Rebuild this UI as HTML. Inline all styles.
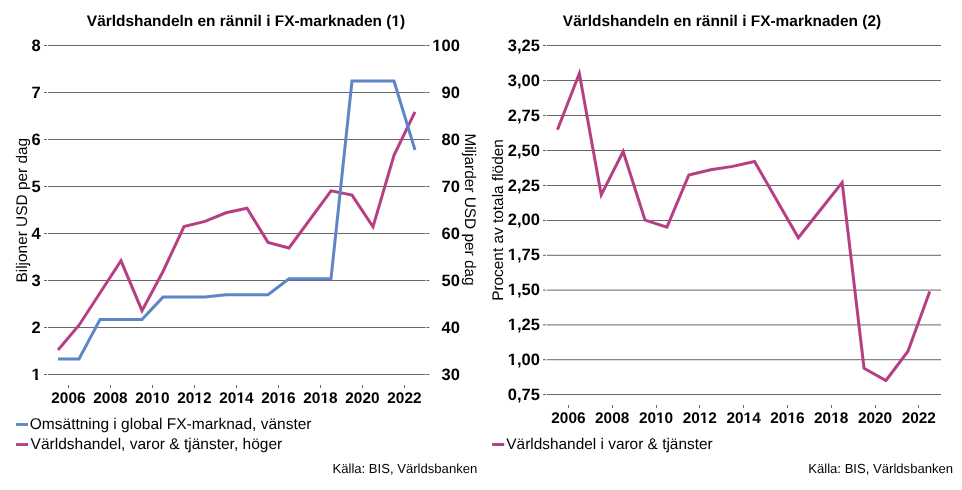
<!DOCTYPE html>
<html lang="sv"><head><meta charset="utf-8"><title>Världshandeln en rännil i FX-marknaden</title>
<style>
html,body{margin:0;padding:0;background:#fff;}
body{width:962px;height:490px;overflow:hidden;}
svg{display:block;text-rendering:geometricPrecision;font-family:"Liberation Sans",sans-serif;fill:#000;}
.t{font-weight:bold;font-size:15.45px;text-anchor:middle;}
.yl{font-weight:bold;font-size:16.5px;text-anchor:end;}
.xl{font-weight:bold;font-size:15.4px;text-anchor:middle;}
.lg{font-size:15.5px;}
.ax{font-size:15.4px;text-anchor:middle;}
.src{font-size:13.1px;text-anchor:end;}
.g{fill:#676767;shape-rendering:crispEdges;}
.ga{fill:#676767;}
.ln{fill:none;stroke-width:3;stroke-linejoin:miter;stroke-linecap:butt;}
</style></head><body>
<svg width="962" height="490" viewBox="0 0 962 490">
<rect x="0" y="0" width="962" height="490" fill="#fff"/>

<g id="chart1">
<text class="t" x="246.0" y="25.8">Världshandeln en rännil i FX-marknaden (1)</text>
<rect class="g" x="44" y="45" width="3" height="1"/><rect class="g" x="48" y="45" width="377" height="1"/><rect x="425" y="45" width="1.5" height="1" fill="#b4b4b4"/><rect class="ga" x="426.5" y="45" width="2.9" height="1"/>
<text class="yl" x="40.8" y="51.4">8</text>
<text class="yl" x="459.9" y="51.4">100</text>
<rect class="g" x="44" y="92" width="3" height="1"/><rect class="g" x="48" y="92" width="377" height="1"/><rect x="425" y="92" width="1.5" height="1" fill="#b4b4b4"/><rect class="ga" x="426.5" y="92" width="2.9" height="1"/>
<text class="yl" x="40.8" y="98.4">7</text>
<text class="yl" x="459.9" y="98.4">90</text>
<rect class="g" x="44" y="139" width="3" height="1"/><rect class="g" x="48" y="139" width="377" height="1"/><rect x="425" y="139" width="1.5" height="1" fill="#b4b4b4"/><rect class="ga" x="426.5" y="139" width="2.9" height="1"/>
<text class="yl" x="40.8" y="145.4">6</text>
<text class="yl" x="459.9" y="145.4">80</text>
<rect class="g" x="44" y="186" width="3" height="1"/><rect class="g" x="48" y="186" width="377" height="1"/><rect x="425" y="186" width="1.5" height="1" fill="#b4b4b4"/><rect class="ga" x="426.5" y="186" width="2.9" height="1"/>
<text class="yl" x="40.8" y="192.4">5</text>
<text class="yl" x="459.9" y="192.4">70</text>
<rect class="g" x="44" y="233" width="3" height="1"/><rect class="g" x="48" y="233" width="377" height="1"/><rect x="425" y="233" width="1.5" height="1" fill="#b4b4b4"/><rect class="ga" x="426.5" y="233" width="2.9" height="1"/>
<text class="yl" x="40.8" y="239.4">4</text>
<text class="yl" x="459.9" y="239.4">60</text>
<rect class="g" x="44" y="280" width="3" height="1"/><rect class="g" x="48" y="280" width="377" height="1"/><rect x="425" y="280" width="1.5" height="1" fill="#b4b4b4"/><rect class="ga" x="426.5" y="280" width="2.9" height="1"/>
<text class="yl" x="40.8" y="286.4">3</text>
<text class="yl" x="459.9" y="286.4">50</text>
<rect class="g" x="44" y="327" width="3" height="1"/><rect class="g" x="48" y="327" width="377" height="1"/><rect x="425" y="327" width="1.5" height="1" fill="#b4b4b4"/><rect class="ga" x="426.5" y="327" width="2.9" height="1"/>
<text class="yl" x="40.8" y="333.4">2</text>
<text class="yl" x="459.9" y="333.4">40</text>
<rect class="g" x="44" y="374" width="3" height="1"/><rect class="g" x="48" y="374" width="377" height="1"/><rect x="425" y="374" width="1.5" height="1" fill="#b4b4b4"/><rect class="ga" x="426.5" y="374" width="2.9" height="1"/>
<text class="yl" x="40.8" y="380.4">1</text>
<text class="yl" x="459.9" y="380.4">30</text>
<rect class="g" x="68" y="385" width="1" height="3"/>
<text class="xl" x="68.45" y="403">2006</text>
<rect class="g" x="110" y="385" width="1" height="3"/>
<text class="xl" x="110.45" y="403">2008</text>
<rect class="g" x="152" y="385" width="1" height="3"/>
<text class="xl" x="152.45" y="403">2010</text>
<rect class="g" x="194" y="385" width="1" height="3"/>
<text class="xl" x="194.45" y="403">2012</text>
<rect class="g" x="236" y="385" width="1" height="3"/>
<text class="xl" x="236.45" y="403">2014</text>
<rect class="g" x="278" y="385" width="1" height="3"/>
<text class="xl" x="278.45" y="403">2016</text>
<rect class="g" x="320" y="385" width="1" height="3"/>
<text class="xl" x="320.45" y="403">2018</text>
<rect class="g" x="362" y="385" width="1" height="3"/>
<text class="xl" x="362.45" y="403">2020</text>
<rect class="g" x="404" y="385" width="1" height="3"/>
<text class="xl" x="404.45" y="403">2022</text>
<polyline class="ln" stroke="#b63f84" points="58.00,350.00 79.00,325.20 121.00,260.80 142.00,310.70 163.00,271.50 184.00,226.50 205.00,221.40 226.00,212.80 247.00,208.20 268.00,242.40 289.00,248.00 331.00,190.80 352.00,195.10 373.00,226.80 394.00,155.30 415.00,111.90"/>
<polyline class="ln" stroke="#5e86c6" points="58.00,359.00 79.00,359.00 100.00,319.50 121.00,319.50 142.00,319.50 163.00,297.10 184.00,297.10 205.00,297.10 226.00,294.70 247.00,294.70 268.00,294.70 289.00,278.70 310.00,278.70 331.00,278.70 352.00,81.00 373.00,81.00 394.00,81.00 415.00,150.00"/>
<text class="ax" transform="translate(26.8,210.2) rotate(-90)">Biljoner USD per dag</text>
<text class="ax" transform="translate(465.1,209.5) rotate(90)">Miljarder USD per dag</text>
<rect x="16.05" y="423.05" width="12" height="2.85" fill="#5e86c6"/>
<text class="lg" x="29.8" y="429.3">Omsättning i global FX-marknad, vänster</text>
<rect x="16.05" y="443.1" width="12" height="2.9" fill="#b63f84"/>
<text class="lg" x="30.6" y="449.3">Världshandel, varor &amp; tjänster, höger</text>
<text class="src" x="477.3" y="472.9">Källa: BIS, Världsbanken</text>
</g>
<g id="chart2">
<text class="t" x="722.0" y="25.8">Världshandeln en rännil i FX-marknaden (2)</text>
<rect class="ga" x="543" y="45.0" width="3" height="1"/><rect class="ga" x="547" y="45.0" width="394" height="1"/>
<text class="yl" x="539.9" y="50.9">3,25</text>
<rect class="ga" x="543" y="80.0" width="3" height="1"/><rect class="ga" x="547" y="80.0" width="394" height="1"/>
<text class="yl" x="539.9" y="85.8">3,00</text>
<rect class="ga" x="543" y="115.0" width="3" height="1"/><rect class="ga" x="547" y="115.0" width="394" height="1"/>
<text class="yl" x="539.9" y="120.7">2,75</text>
<rect class="ga" x="543" y="150.0" width="3" height="1"/><rect class="ga" x="547" y="150.0" width="394" height="1"/>
<text class="yl" x="539.9" y="155.6">2,50</text>
<rect class="ga" x="543" y="185.0" width="3" height="1"/><rect class="ga" x="547" y="185.0" width="394" height="1"/>
<text class="yl" x="539.9" y="190.5">2,25</text>
<rect class="ga" x="543" y="220.0" width="3" height="1"/><rect class="ga" x="547" y="220.0" width="394" height="1"/>
<text class="yl" x="539.9" y="225.4">2,00</text>
<rect class="ga" x="543" y="254.8" width="3" height="1"/><rect class="ga" x="547" y="254.8" width="394" height="1"/>
<text class="yl" x="539.9" y="260.3">1,75</text>
<rect class="ga" x="543" y="289.6" width="3" height="1"/><rect class="ga" x="547" y="289.6" width="394" height="1"/>
<text class="yl" x="539.9" y="295.2">1,50</text>
<rect class="ga" x="543" y="324.4" width="3" height="1"/><rect class="ga" x="547" y="324.4" width="394" height="1"/>
<text class="yl" x="539.9" y="330.1">1,25</text>
<rect class="ga" x="543" y="359.2" width="3" height="1"/><rect class="ga" x="547" y="359.2" width="394" height="1"/>
<text class="yl" x="539.9" y="365.0">1,00</text>
<rect class="ga" x="543" y="394.0" width="3" height="1"/><rect class="ga" x="547" y="394.0" width="394" height="1"/>
<text class="yl" x="539.9" y="399.9">0,75</text>
<rect class="g" x="568" y="405" width="1" height="3"/>
<text class="xl" x="568.40" y="423">2006</text>
<rect class="g" x="612" y="405" width="1" height="3"/>
<text class="xl" x="612.20" y="423">2008</text>
<rect class="g" x="656" y="405" width="1" height="3"/>
<text class="xl" x="656.00" y="423">2010</text>
<rect class="g" x="699" y="405" width="1" height="3"/>
<text class="xl" x="699.80" y="423">2012</text>
<rect class="g" x="743" y="405" width="1" height="3"/>
<text class="xl" x="743.60" y="423">2014</text>
<rect class="g" x="787" y="405" width="1" height="3"/>
<text class="xl" x="787.40" y="423">2016</text>
<rect class="g" x="831" y="405" width="1" height="3"/>
<text class="xl" x="831.20" y="423">2018</text>
<rect class="g" x="875" y="405" width="1" height="3"/>
<text class="xl" x="875.00" y="423">2020</text>
<rect class="g" x="918" y="405" width="1" height="3"/>
<text class="xl" x="918.80" y="423">2022</text>
<polyline class="ln" stroke="#b63f84" points="557.45,129.70 579.35,73.40 601.25,194.90 623.15,151.50 645.05,220.10 666.95,227.10 688.85,175.00 710.75,169.80 732.65,166.40 754.55,161.50 798.35,237.80 842.15,182.50 864.05,368.20 885.95,380.50 907.85,351.50 929.75,291.50"/>
<text class="ax" transform="translate(503.2,220) rotate(-90)">Procent av totala flöden</text>
<rect x="492.1" y="443" width="12.1" height="3" fill="#b63f84"/>
<text class="lg" style="font-size:15.42px" x="506.3" y="449.2">Världshandel i varor &amp; tjänster</text>
<text class="src" x="953.1" y="472.7">Källa: BIS, Världsbanken</text>
</g>
<g id="glyph-trim"><rect x="391.00" y="24.00" width="3.84" height="3" fill="#fff"/><rect x="397.26" y="24.00" width="3.74" height="3" fill="#fff"/><rect x="432.00" y="49.00" width="4.07" height="3" fill="#fff"/><rect x="438.63" y="49.00" width="3.37" height="3" fill="#fff"/><rect x="32.00" y="378.00" width="3.31" height="3" fill="#fff"/><rect x="37.88" y="378.00" width="3.12" height="3" fill="#fff"/><rect x="152.00" y="401.00" width="3.88" height="3" fill="#fff"/><rect x="158.29" y="401.00" width="3.71" height="3" fill="#fff"/><rect x="194.00" y="401.00" width="3.88" height="3" fill="#fff"/><rect x="200.29" y="401.00" width="3.71" height="3" fill="#fff"/><rect x="236.00" y="401.00" width="3.88" height="3" fill="#fff"/><rect x="242.29" y="401.00" width="3.71" height="3" fill="#fff"/><rect x="278.00" y="401.00" width="3.88" height="3" fill="#fff"/><rect x="284.29" y="401.00" width="3.71" height="3" fill="#fff"/><rect x="320.00" y="401.00" width="3.88" height="3" fill="#fff"/><rect x="326.29" y="401.00" width="3.71" height="3" fill="#fff"/><rect x="508.00" y="258.00" width="3.48" height="3" fill="#fff"/><rect x="514.04" y="258.00" width="3.96" height="3" fill="#fff"/><rect x="508.00" y="293.00" width="3.48" height="3" fill="#fff"/><rect x="514.04" y="293.00" width="3.96" height="3" fill="#fff"/><rect x="508.00" y="328.00" width="3.48" height="3" fill="#fff"/><rect x="514.04" y="328.00" width="3.96" height="3" fill="#fff"/><rect x="508.00" y="363.00" width="3.48" height="3" fill="#fff"/><rect x="514.04" y="363.00" width="3.96" height="3" fill="#fff"/><rect x="656.00" y="421.00" width="3.43" height="3" fill="#fff"/><rect x="661.84" y="421.00" width="3.16" height="3" fill="#fff"/><rect x="700.00" y="421.00" width="3.23" height="3" fill="#fff"/><rect x="705.64" y="421.00" width="3.36" height="3" fill="#fff"/><rect x="743.00" y="421.00" width="4.03" height="3" fill="#fff"/><rect x="749.44" y="421.00" width="3.56" height="3" fill="#fff"/><rect x="787.00" y="421.00" width="3.83" height="3" fill="#fff"/><rect x="793.24" y="421.00" width="3.76" height="3" fill="#fff"/><rect x="831.00" y="421.00" width="3.63" height="3" fill="#fff"/><rect x="837.04" y="421.00" width="2.96" height="3" fill="#fff"/></g>
</svg></body></html>
